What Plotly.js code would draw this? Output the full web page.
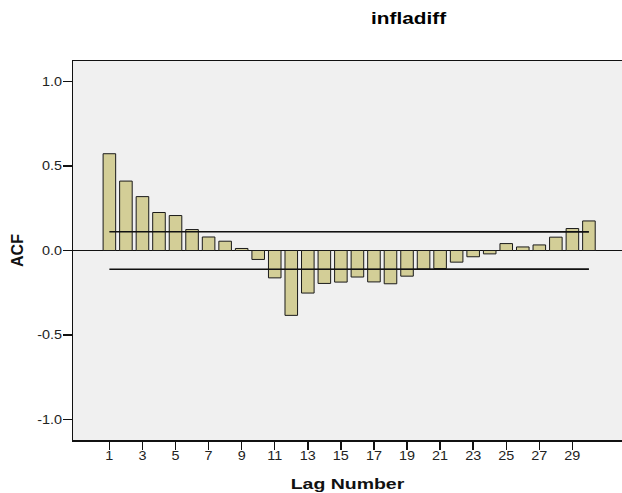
<!DOCTYPE html>
<html>
<head>
<meta charset="utf-8">
<script src="https://cdn.plot.ly/plotly-3.0.1.min.js"></script>
<style>html,body{margin:0;padding:0;background:#fff;}#chart{width:622px;height:493px;}</style>
</head>
<body>
<div id="chart"></div>
<script>
const lags = [1,2,3,4,5,6,7,8,9,10,11,12,13,14,15,16,17,18,19,20,21,22,23,24,25,26,27,28,29,30];
const acf = [0.573,0.411,0.319,0.225,0.207,0.124,0.080,0.055,0.012,-0.053,-0.162,-0.384,-0.252,-0.195,-0.187,-0.157,-0.186,-0.197,-0.152,-0.110,-0.107,-0.069,-0.037,-0.020,0.041,0.021,0.033,0.079,0.130,0.175];
const limitLags = [1, 30];
const upperLimit = [0.111, 0.110];
const lowerLimit = [-0.111, -0.110];
const xTicks = [1,3,5,7,9,11,13,15,17,19,21,23,25,27,29];
const yTicks = [-1.0,-0.5,0.0,0.5,1.0];
const titleText = 'infladiff';

const font = 'Liberation Sans, Arial, sans-serif';
const traces = [
  {type:'bar', x:lags, y:acf, width:0.76,
   marker:{color:'#D3CE97', line:{color:'#1a1a1a', width:1}}, hoverinfo:'x+y'},
  {type:'scatter', mode:'lines', x:limitLags, y:upperLimit, line:{color:'#111', width:1.6}},
  {type:'scatter', mode:'lines', x:limitLags, y:lowerLimit, line:{color:'#111', width:1.6}}
];
const layout = {
  width:622, height:493,
  margin:{l:73, r:0, t:61, b:53},
  paper_bgcolor:'#ffffff', plot_bgcolor:'#F0F0F0',
  showlegend:false, bargap:0,
  font:{family:font, color:'#111', size:12},
  title:{text:'<b>'+titleText+'</b>', x:0.657, xref:'container', xanchor:'center',
         y:0.963, yref:'container', yanchor:'middle', font:{size:16, family:font, color:'#000'}},
  xaxis:{range:[-1.2, 32], tickvals:xTicks, ticktext:xTicks.map(String),
         ticks:'outside', ticklen:8, tickwidth:1.5, tickcolor:'#111',
         showline:true, linecolor:'#111', linewidth:1.5, mirror:true,
         showgrid:false, zeroline:false, tickfont:{size:12, color:'#222'},
         title:{text:'<b>Lag Number</b>', font:{size:15, color:'#111'}, standoff:14}},
  yaxis:{range:[-1.122, 1.122], tickvals:yTicks, ticktext:yTicks.map(v=>v.toFixed(1)),
         ticks:'outside', ticklen:9, tickwidth:1.5, tickcolor:'#111',
         showline:true, linecolor:'#111', linewidth:1.5, mirror:false,
         showgrid:false, zeroline:true, zerolinecolor:'#111', zerolinewidth:1.5,
         tickfont:{size:12, color:'#222'},
         title:{text:'<b>ACF</b>', font:{size:16, color:'#111'}, standoff:12}}
};

// The reference renders horizontal text slightly widened; mimic with a horizontal scale.
function widen(el, s, anchor, dx, dy) {
  const b = el.getBBox();
  const cx = anchor === 'end' ? b.x + b.width : b.x + b.width / 2;
  const t = el.getAttribute('transform') || '';
  el.setAttribute('transform', t + ' translate(' + (cx + dx) + ',' + dy + ') scale(' + s + ',1) translate(' + (-cx) + ',0)');
}
Plotly.newPlot('chart', traces, layout, {staticPlot:true, displayModeBar:false}).then(gd => {
  gd.querySelectorAll('.xtick text').forEach(el => widen(el, 1.2, 'middle', 0, -4));
  gd.querySelectorAll('.ytick text').forEach(el => widen(el, 1.2, 'end', 2, 0));
  gd.querySelectorAll('.xtitle').forEach(el => widen(el, 1.3, 'middle', 0, -1));
  gd.querySelectorAll('.gtitle').forEach(el => widen(el, 1.3, 'middle', 0, 0));
});
</script>
</body>
</html>
